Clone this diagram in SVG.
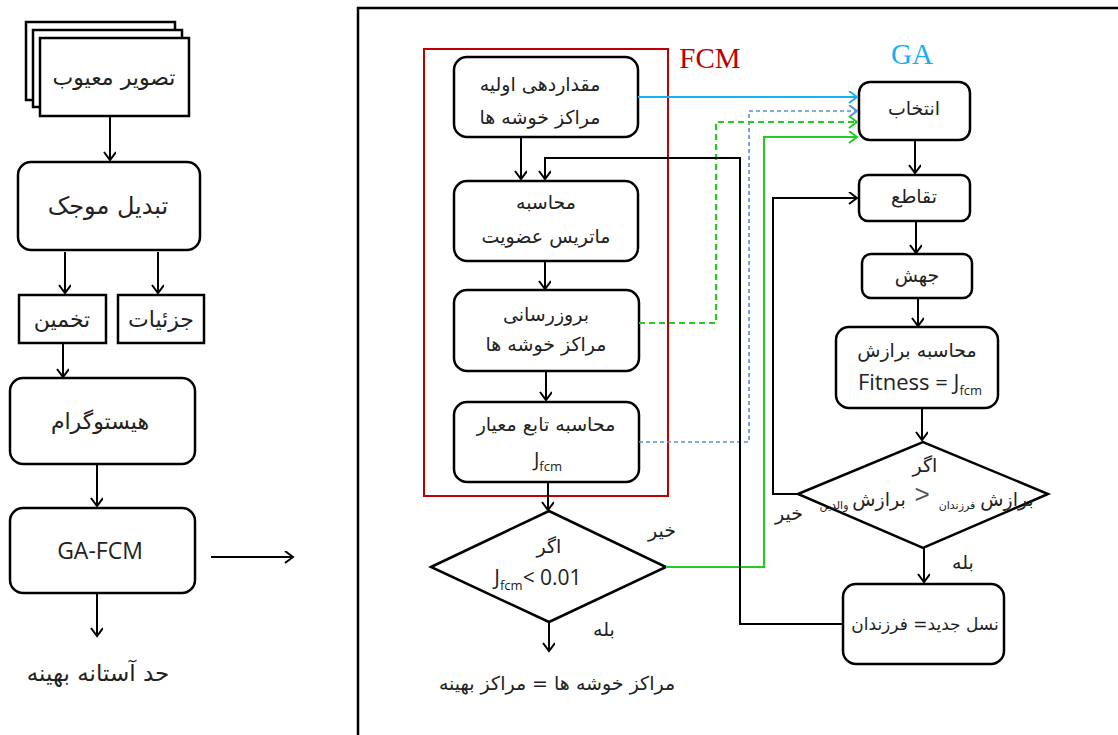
<svg xmlns="http://www.w3.org/2000/svg" width="1118" height="735" viewBox="0 0 1118 735">
<style>
.box{fill:#fff;stroke:#000;stroke-width:2.5}
.fa{font-family:"DejaVu Sans","Noto Sans",sans-serif;font-size:19px;fill:#222;text-anchor:middle;direction:rtl}
.la{font-family:"Open Sans","Noto Sans",sans-serif;font-size:20px;fill:#222;text-anchor:middle}
.sub{font-size:13px}
.ln{fill:none;stroke:#000;stroke-width:2}
.frame{fill:none;stroke:#000;stroke-width:2.5}
</style>
<defs>
<marker id="ab" markerUnits="userSpaceOnUse" markerWidth="12" markerHeight="14" refX="9" refY="6" orient="auto"><path d="M1,0 L9,6 L1,12" fill="none" stroke="#000" stroke-width="2"/></marker>
<marker id="abl" markerUnits="userSpaceOnUse" markerWidth="12" markerHeight="14" refX="9" refY="6" orient="auto"><path d="M1,0 L9,6 L1,12" fill="none" stroke="#18aff0" stroke-width="2"/></marker>
<marker id="adb" markerUnits="userSpaceOnUse" markerWidth="12" markerHeight="14" refX="9" refY="6" orient="auto"><path d="M1,0 L9,6 L1,12" fill="none" stroke="#5b8ed6" stroke-width="2"/></marker>
<marker id="ag" markerUnits="userSpaceOnUse" markerWidth="12" markerHeight="14" refX="9" refY="6" orient="auto"><path d="M1,0 L9,6 L1,12" fill="none" stroke="#22cc22" stroke-width="2"/></marker>
</defs>
<rect width="1118" height="735" fill="#fff"/>
<path class="frame" d="M358,735 V8 H1118"/>

<g id="left-input">
<rect x="26" y="22" width="149" height="78" class="box"/>
<rect x="33" y="30" width="149" height="77" class="box"/>
<rect x="40" y="38" width="149" height="78" class="box"/>
<text x="114" y="85" class="fa" style="font-size:22px">تصویر معیوب</text>
</g>
<g id="left-wavelet">
<rect x="18" y="162" width="182" height="88" rx="13" class="box"/>
<text x="108" y="214" class="fa" style="font-size:24px">تبدیل موجک</text>
</g>
<g id="left-estimate">
<rect x="19" y="295" width="87" height="48" class="box"/>
<text x="62" y="327" class="fa" style="font-size:22px">تخمین</text>
</g>
<g id="left-detail">
<rect x="118" y="295" width="86" height="48" class="box"/>
<text x="161" y="327" class="fa" style="font-size:22px">جزئیات</text>
</g>
<g id="left-hist">
<rect x="10" y="378" width="185" height="86" rx="13" class="box"/>
<text x="100" y="429" class="fa" style="font-size:22px">هیستوگرام</text>
</g>
<g id="left-gafcm">
<rect x="10" y="508" width="185" height="85" rx="13" class="box"/>
<text x="100" y="559" class="la" style="font-size:23px">GA-FCM</text>
</g>
<g id="left-output">
<text x="98" y="681" class="fa" style="font-size:23px">حد آستانه بهینه</text>
</g>

<g id="fcm-frame">
<rect x="424" y="49" width="244" height="447" fill="none" stroke="#c00000" stroke-width="2"/>
<text x="710" y="68" font-family="Liberation Serif,serif" font-size="29" fill="#c00000" text-anchor="middle">FCM</text>
</g>
<g id="fcm-init">
<rect x="454" y="57" width="184" height="80" rx="13" class="box"/>
<text x="540" y="91" class="fa">مقداردهی اولیه</text>
<text x="540" y="124" class="fa">مراکز خوشه ها</text>
</g>
<g id="fcm-membership">
<rect x="454" y="181" width="184" height="80" rx="13" class="box"/>
<text x="546" y="209" class="fa">محاسبه</text>
<text x="546" y="243" class="fa">ماتریس عضویت</text>
</g>
<g id="fcm-update">
<rect x="454" y="290" width="185" height="81" rx="13" class="box"/>
<text x="546" y="321" class="fa">بروزرسانی</text>
<text x="546" y="351" class="fa">مراکز خوشه ها</text>
</g>
<g id="fcm-objective">
<rect x="454" y="402" width="185" height="80" rx="13" class="box"/>
<text x="546" y="431" class="fa">محاسبه تابع معیار</text>
<text x="548" y="466" class="la">J<tspan class="sub" dy="5">fcm</tspan></text>
</g>
<g id="fcm-decision">
<polygon points="431,567 549,511 666,567 549,622" class="box"/>
<text x="549" y="553" class="fa">اگر</text>
<text x="538" y="585" class="la" style="font-size:21px">J<tspan class="sub" dy="5">fcm</tspan><tspan dy="-5">&lt; 0.01</tspan></text>
<text x="662" y="537" class="fa">خیر</text>
<text x="604" y="636" class="fa">بله</text>
</g>
<g id="fcm-result">
<text x="557" y="690" class="fa">مراکز خوشه ها = مراکز بهینه</text>
</g>

<g id="ga-label">
<text x="912" y="64" font-family="Liberation Serif,serif" font-size="29" fill="#18aff0" text-anchor="middle">GA</text>
</g>
<g id="ga-select">
<rect x="859" y="82" width="111" height="58" rx="11" class="box"/>
<text x="914" y="115" class="fa">انتخاب</text>
</g>
<g id="ga-crossover">
<rect x="859" y="175" width="111" height="46" rx="9" class="box"/>
<text x="914" y="203" class="fa">تقاطع</text>
</g>
<g id="ga-mutation">
<rect x="862" y="254" width="110" height="44" rx="9" class="box"/>
<text x="917" y="282" class="fa">جهش</text>
</g>
<g id="ga-fitness">
<rect x="836" y="327" width="162" height="81" rx="13" class="box"/>
<text x="917" y="357" class="fa">محاسبه برازش</text>
<text x="920" y="390" class="la" style="font-size:22px">Fitness = J<tspan class="sub" dy="5">fcm</tspan></text>
</g>
<g id="ga-decision">
<polygon points="798,494 923,442 1048,494 923,548" class="box"/>
<text x="925" y="472" class="fa">اگر</text>
<text x="1007" y="506" class="fa">برازش</text>
<text x="957" y="509" class="fa" style="font-size:11px">فرزندان</text>
<text x="922" y="503" font-family="Liberation Sans,sans-serif" font-size="26" fill="#555" text-anchor="middle" direction="ltr">&gt;</text>
<text x="879" y="506" class="fa">برازش</text>
<text x="834" y="509" class="fa" style="font-size:11px">والدین</text>
<text x="789" y="520" class="fa">خیر</text>
<text x="963" y="569" class="fa">بله</text>
</g>
<g id="ga-newgen">
<rect x="843" y="584" width="161" height="80" rx="13" class="box"/>
<text x="925" y="630" class="fa" style="font-size:17px">نسل جدید= فرزندان</text>
</g>

<g id="connectors">
<path class="ln" d="M110,116 V160" marker-end="url(#ab)"/>
<path class="ln" d="M65,252 V293" marker-end="url(#ab)"/>
<path class="ln" d="M158,252 V293" marker-end="url(#ab)"/>
<path class="ln" d="M63,343 V377" marker-end="url(#ab)"/>
<path class="ln" d="M97,464 V506" marker-end="url(#ab)"/>
<path class="ln" d="M97,593 V636" marker-end="url(#ab)"/>
<path class="ln" d="M211,557 H293" marker-end="url(#ab)" stroke-width="2.5"/>

<path class="ln" d="M521,137 V179" marker-end="url(#ab)"/>
<path class="ln" d="M545,261 V289" marker-end="url(#ab)"/>
<path class="ln" d="M546,371 V400" marker-end="url(#ab)"/>
<path class="ln" d="M548,482 V510" marker-end="url(#ab)"/>
<path class="ln" d="M549,622 V651" marker-end="url(#ab)"/>

<path class="ln" d="M915,140 V173" marker-end="url(#ab)"/>
<path class="ln" d="M916,221 V253" marker-end="url(#ab)"/>
<path class="ln" d="M918,298 V326" marker-end="url(#ab)"/>
<path class="ln" d="M922,408 V440" marker-end="url(#ab)"/>
<path class="ln" d="M924,548 V582" marker-end="url(#ab)"/>

<path d="M638,97 H857" fill="none" stroke="#18aff0" stroke-width="2" marker-end="url(#abl)"/>
<path d="M639,442 H749 V111 H857" fill="none" stroke="#5b8ed6" stroke-width="1.6" stroke-dasharray="4 3" marker-end="url(#adb)"/>
<path d="M639,323 H716 V122 H857" fill="none" stroke="#22cc22" stroke-width="2.2" stroke-dasharray="6 4" marker-end="url(#ag)"/>
<path d="M666,567 H764 V137 H857" fill="none" stroke="#22cc22" stroke-width="2" marker-end="url(#ag)"/>
<path class="ln" d="M843,624 H740 V158 H545 V179" marker-end="url(#ab)"/>
<path class="ln" d="M798,494 H773 V198 H857" marker-end="url(#ab)"/>
</g>
</svg>
